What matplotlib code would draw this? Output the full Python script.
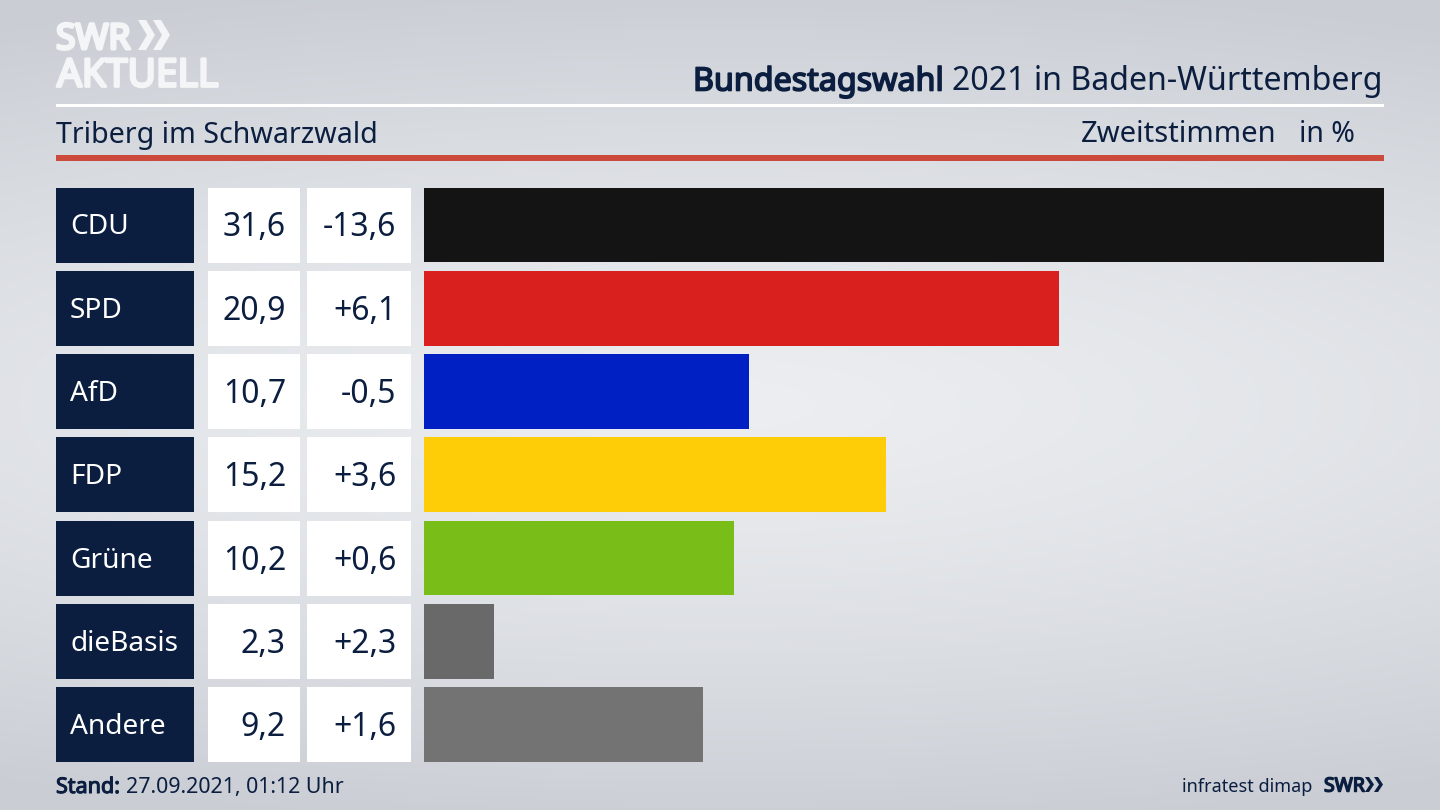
import numpy as np
import matplotlib
matplotlib.use("Agg")
import matplotlib.pyplot as plt
import matplotlib.patheffects as pe
from matplotlib.patches import Rectangle, Polygon

parties = ["CDU", "SPD", "AfD", "FDP", "Grüne", "dieBasis", "Andere"]
shares = [31.6, 20.9, 10.7, 15.2, 10.2, 2.3, 9.2]
share_labels = ["31,6", "20,9", "10,7", "15,2", "10,2", "2,3", "9,2"]
change_labels = ["-13,6", "+6,1", "-0,5", "+3,6", "+0,6", "+2,3", "+1,6"]
colors = ["#141414", "#da1f1f", "#0020c4", "#ffcc08", "#78bd18", "#696969", "#737374"]

NAVY = "#0b1e3f"
LOGO = "#f4f5f7"
plt.rcParams["font.family"] = ["Noto Sans", "DejaVu Sans"]
W, H = 1440, 810
fig = plt.figure(figsize=(W / 100, H / 100), dpi=100)

def fat(width, color):
    return [pe.withStroke(linewidth=width, foreground=color)]

# overlay in pixel coordinates
bg = fig.add_axes([0, 0, 1, 1])
bg.set_xlim(0, W)
bg.set_ylim(H, 0)
bg.axis("off")
yy, xx = np.mgrid[0:1:162j, 0:1:288j]
d = np.sqrt(((xx - 0.5) / 1.1) ** 2 + ((yy - 0.5) / 0.52) ** 2)
d = np.clip(d, 0, 1)
c0 = np.array([0.925, 0.933, 0.945])
c1 = np.array([0.795, 0.81, 0.835])
img = c0 + (c1 - c0) * d[..., None] ** 1.3
bg.imshow(img, extent=[0, W, H, 0], aspect="auto", zorder=0, interpolation="bilinear")

# main bars
ax = fig.add_axes([424 / W, 1 - 762 / H, 960 / W, (762 - 187.5) / H])
ax.patch.set_alpha(0)
ypos = np.arange(len(parties))
ax.barh(ypos, shares, height=0.9, color=colors)
ax.set_xlim(0, max(shares))
ax.set_ylim(len(parties) - 0.55, -0.45)
ax.axis("off")

pitch = (762 - 187.5 - 75) / (len(parties) - 1)
for i, (p, s, c) in enumerate(zip(parties, share_labels, change_labels)):
    top = 187.5 + i * pitch
    mid = top + 36.5
    bg.add_patch(Rectangle((56, top), 138, 75, fc=NAVY, ec="none", zorder=2))
    bg.add_patch(Rectangle((208, top), 92, 75, fc="white", ec="none", zorder=2))
    bg.add_patch(Rectangle((307, top), 104, 75, fc="white", ec="none", zorder=2))
    bg.text(70, mid, p, color="white", fontsize=20.2, va="center_baseline", ha="left", zorder=3)
    bg.text(286, mid, s, color=NAVY, fontsize=23, va="center_baseline", ha="right", zorder=3)
    bg.text(396.5, mid, c, color=NAVY, fontsize=23, va="center_baseline", ha="right", zorder=3)

# header rules
bg.add_patch(Rectangle((56, 104), 1328, 3, fc="white", ec="none", zorder=2))
bg.add_patch(Rectangle((56, 155), 1328, 5.5, fc="#cc4a3c", ec="none", zorder=2))

# header text
bg.text(1383, 78, "2021 in Baden-Württemberg", color=NAVY, fontsize=23.1,
        ha="right", va="center_baseline", zorder=3)
bg.text(944, 78, "Bundestagswahl", color=NAVY, fontsize=23.2, ha="right",
        va="center_baseline", zorder=3, path_effects=fat(1.2, NAVY))
bg.text(56, 131.5, "Triberg im Schwarzwald", color=NAVY, fontsize=20.6, ha="left",
        va="center_baseline", zorder=3)
bg.text(1277, 131.5, "Zweitstimmen", color=NAVY, fontsize=21, ha="right",
        va="center_baseline", zorder=3)
bg.text(1355, 131.5, "in %", color=NAVY, fontsize=20.5, ha="right",
        va="center_baseline", zorder=3)

# footer
bg.text(56, 785, "Stand:", color=NAVY, fontsize=15.5, ha="left", va="center_baseline",
        zorder=3, path_effects=fat(0.8, NAVY))
bg.text(126, 785, "27.09.2021, 01:12 Uhr", color=NAVY, fontsize=15.4, ha="left",
        va="center_baseline", zorder=3)
bg.text(1312, 785, "infratest dimap", color=NAVY, fontsize=13, ha="right",
        va="center_baseline", zorder=3)
bg.text(1324, 784, "SWR", color=NAVY, fontsize=14, ha="left", va="center_baseline",
        zorder=3, path_effects=fat(1.1, NAVY))

def chevron(x, y0, y1, w, t, color):
    m = (y0 + y1) / 2
    bg.add_patch(Polygon([(x, y0), (x + t, y0), (x + t + w, m), (x + t, y1), (x, y1), (x + w, m)],
                         closed=True, fc=color, ec="none", zorder=3))

# logo
bg.text(56, 36, "SWR", color=LOGO, fontsize=25.5, ha="left", va="center_baseline",
        zorder=3, path_effects=fat(2.2, LOGO))
bg.text(57, 72, "AKTUELL", color=LOGO, fontsize=28, ha="left", va="center_baseline",
        zorder=3, path_effects=fat(2.0, LOGO))
chevron(138, 20, 50, 9, 8, LOGO)
chevron(153, 20, 50, 9, 8, LOGO)
chevron(1365, 777, 792, 5, 4, NAVY)
chevron(1374, 777, 792, 5, 4, NAVY)

fig.savefig("out.png", dpi=100)
